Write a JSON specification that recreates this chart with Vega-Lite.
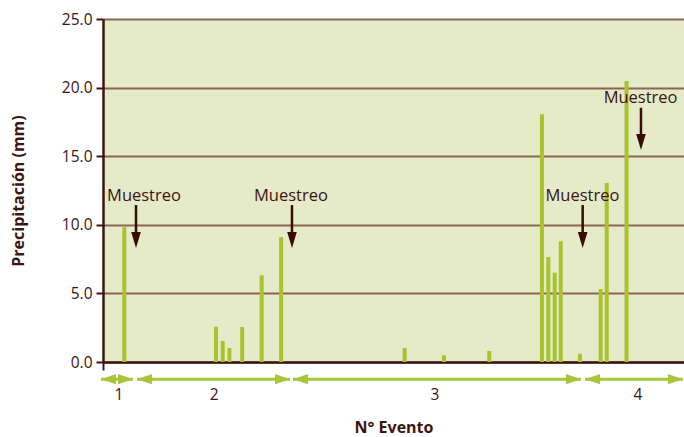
{
  "$schema": "https://vega.github.io/schema/vega-lite/v6.json",
  "width": 581,
  "height": 343,
  "autosize": {"type": "none"},
  "padding": {"left": 103, "top": 19, "right": 0, "bottom": 75},
  "background": "#ffffff",
  "config": {
    "view": {"fill": "#E5EAC8", "stroke": null},
    "font": "Open Sans",
    "axis": {"labelFont": "Open Sans", "titleFont": "Open Sans"}
  },
  "datasets": {
    "lluvia": [
      {"dia": 3.34, "precip": 9.86},
      {"dia": 17.7, "precip": 2.57},
      {"dia": 18.75, "precip": 1.53},
      {"dia": 19.8, "precip": 1.02},
      {"dia": 21.8, "precip": 2.55},
      {"dia": 24.85, "precip": 6.32},
      {"dia": 27.9, "precip": 9.11},
      {"dia": 47.25, "precip": 1.02},
      {"dia": 53.4, "precip": 0.49},
      {"dia": 60.5, "precip": 0.8},
      {"dia": 68.75, "precip": 18.05},
      {"dia": 69.75, "precip": 7.65},
      {"dia": 70.75, "precip": 6.51},
      {"dia": 71.7, "precip": 8.8},
      {"dia": 74.7, "precip": 0.6},
      {"dia": 77.95, "precip": 5.32},
      {"dia": 78.9, "precip": 13.05},
      {"dia": 82.0, "precip": 20.48}
    ],
    "muestreo": [
      {"dia": 5.17, "texto_x": 6.42, "texto_y": 12.1, "top": 11.44, "cabeza": 8.89, "label": "Muestreo"},
      {"dia": 29.6, "texto_x": 29.44, "texto_y": 12.1, "top": 11.44, "cabeza": 8.89, "label": "Muestreo"},
      {"dia": 75.13, "texto_x": 75.1, "texto_y": 12.1, "top": 11.44, "cabeza": 8.89, "label": "Muestreo"},
      {"dia": 84.26, "texto_x": 84.2, "texto_y": 19.26, "top": 18.53, "cabeza": 16.03, "label": "Muestreo"}
    ],
    "eventos": [
      {"evento": "1", "inicio": -0.31, "fin": 4.7, "centro": 2.5, "nivel": -1.25, "nivel_texto": -2.4},
      {"evento": "2", "inicio": 5.32, "fin": 29.29, "centro": 17.4, "nivel": -1.25, "nivel_texto": -2.4},
      {"evento": "3", "inicio": 29.76, "fin": 74.86, "centro": 52.0, "nivel": -1.25, "nivel_texto": -2.4},
      {"evento": "4", "inicio": 75.49, "fin": 90.84, "centro": 83.8, "nivel": -1.25, "nivel_texto": -2.4}
    ]
  },
  "layer": [
    {
      "data": {"name": "lluvia"},
      "mark": {"type": "rule", "strokeWidth": 4, "color": "#A8C42C", "strokeCap": "butt"},
      "encoding": {
        "x": {
          "field": "dia", "type": "quantitative",
          "scale": {"domain": [0, 91], "nice": false, "zero": false},
          "axis": {
            "title": "N° Evento",
            "titleFontSize": 16,
            "titleFontWeight": "bold",
            "titleColor": "#3C1410",
            "titleY": 65,
            "titleBaseline": "middle",
            "labels": false,
            "grid": false,
            "values": [0],
            "ticks": true,
            "tickSize": 8,
            "tickWidth": 2,
            "tickColor": "#3C1410",
            "domainColor": "#3C1410",
            "domainWidth": 2.5
          }
        },
        "y": {
          "field": "precip", "type": "quantitative",
          "scale": {"domain": [0, 25], "nice": false},
          "axis": {
            "title": "Precipitación (mm)",
            "titleFontSize": 16,
            "titleFontWeight": "bold",
            "titleColor": "#3C1410",
            "titleX": -85,
            "titleY": 171.5,
            "titleAngle": -90,
            "titleAlign": "center",
            "titleBaseline": "middle",
            "values": [0, 5, 10, 15, 20, 25],
            "format": ".1f",
            "labelFontSize": 15.5,
            "labelColor": "#3C1410",
            "labelPadding": 4,
            "tickSize": 7,
            "tickWidth": 2,
            "tickColor": "#3C1410",
            "domainColor": "#3C1410",
            "domainWidth": 2.5,
            "grid": true,
            "gridColor": "#8C6553",
            "gridWidth": 2,
            "gridOpacity": 1
          }
        },
        "y2": {"datum": 0}
      }
    },
    {
      "data": {"name": "muestreo"},
      "mark": {"type": "rule", "strokeWidth": 2.5, "color": "#3A0A05"},
      "encoding": {
        "x": {"field": "dia", "type": "quantitative"},
        "y": {"field": "top", "type": "quantitative"},
        "y2": {"field": "cabeza"}
      }
    },
    {
      "data": {"name": "muestreo"},
      "mark": {"type": "point", "shape": "M-0.6,-1L0.6,-1L0,1Z", "size": 256, "filled": true, "color": "#3A0A05", "opacity": 1},
      "encoding": {
        "x": {"field": "dia", "type": "quantitative"},
        "y": {"field": "cabeza", "type": "quantitative"}
      }
    },
    {
      "data": {"name": "muestreo"},
      "mark": {"type": "text", "fontSize": 16.5, "color": "#3C1410", "align": "center", "baseline": "middle"},
      "encoding": {
        "x": {"field": "texto_x", "type": "quantitative"},
        "y": {"field": "texto_y", "type": "quantitative"},
        "text": {"field": "label"}
      }
    },
    {
      "data": {"name": "eventos"},
      "mark": {"type": "rule", "strokeWidth": 3, "color": "#A8C63A"},
      "encoding": {
        "x": {"field": "inicio", "type": "quantitative"},
        "x2": {"field": "fin"},
        "y": {"field": "nivel", "type": "quantitative"}
      }
    },
    {
      "data": {"name": "eventos"},
      "mark": {"type": "point", "shape": "M-1,0L1,-0.67L1,0.67Z", "size": 225, "filled": true, "color": "#A8C63A", "opacity": 1, "xOffset": 7.5},
      "encoding": {
        "x": {"field": "inicio", "type": "quantitative"},
        "y": {"field": "nivel", "type": "quantitative"}
      }
    },
    {
      "data": {"name": "eventos"},
      "mark": {"type": "point", "shape": "M1,0L-1,-0.67L-1,0.67Z", "size": 225, "filled": true, "color": "#A8C63A", "opacity": 1, "xOffset": -7.5},
      "encoding": {
        "x": {"field": "fin", "type": "quantitative"},
        "y": {"field": "nivel", "type": "quantitative"}
      }
    },
    {
      "data": {"name": "eventos"},
      "mark": {"type": "text", "fontSize": 15.5, "color": "#3C1410", "align": "center", "baseline": "middle"},
      "encoding": {
        "x": {"field": "centro", "type": "quantitative"},
        "y": {"field": "nivel_texto", "type": "quantitative"},
        "text": {"field": "evento"}
      }
    }
  ]
}
